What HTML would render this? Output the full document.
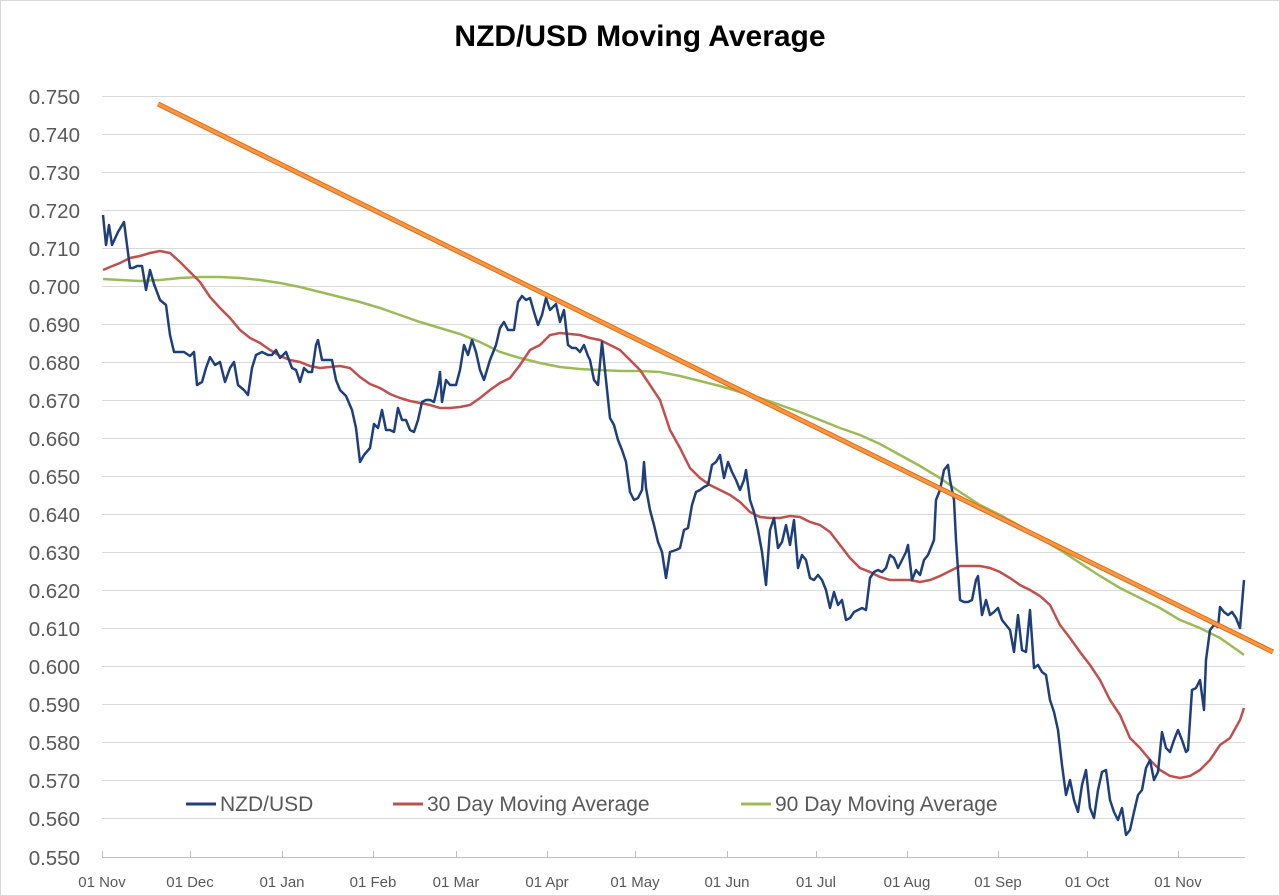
<!DOCTYPE html>
<html><head><style>
html,body{margin:0;padding:0;background:#fff;}
svg{display:block;}
text{font-family:"Liberation Sans",sans-serif;fill:#595959;}
</style></head><body>
<svg width="1280" height="896" viewBox="0 0 1280 896">
<rect x="0.5" y="0.5" width="1279" height="895" fill="#fff" stroke="#d9d9d9"/>
<text x="640" y="46" text-anchor="middle" style="font-size:30px;font-weight:bold;fill:#000">NZD/USD Moving Average</text>
<g stroke="#d9d9d9" stroke-width="1">
<line x1="102" x2="1245" y1="96.5" y2="96.5"/><line x1="102" x2="1245" y1="134.5" y2="134.5"/><line x1="102" x2="1245" y1="172.5" y2="172.5"/><line x1="102" x2="1245" y1="210.5" y2="210.5"/><line x1="102" x2="1245" y1="248.5" y2="248.5"/><line x1="102" x2="1245" y1="286.5" y2="286.5"/><line x1="102" x2="1245" y1="324.5" y2="324.5"/><line x1="102" x2="1245" y1="362.5" y2="362.5"/><line x1="102" x2="1245" y1="400.5" y2="400.5"/><line x1="102" x2="1245" y1="438.5" y2="438.5"/><line x1="102" x2="1245" y1="476.5" y2="476.5"/><line x1="102" x2="1245" y1="514.5" y2="514.5"/><line x1="102" x2="1245" y1="552.5" y2="552.5"/><line x1="102" x2="1245" y1="590.5" y2="590.5"/><line x1="102" x2="1245" y1="628.5" y2="628.5"/><line x1="102" x2="1245" y1="666.5" y2="666.5"/><line x1="102" x2="1245" y1="704.5" y2="704.5"/><line x1="102" x2="1245" y1="742.5" y2="742.5"/><line x1="102" x2="1245" y1="780.5" y2="780.5"/><line x1="102" x2="1245" y1="818.5" y2="818.5"/>
<line x1="102" x2="1245" y1="857.5" y2="857.5" stroke="#bfbfbf"/>
<g stroke="#bfbfbf"><line x1="102.5" x2="102.5" y1="851" y2="857"/><line x1="190.5" x2="190.5" y1="851" y2="857"/><line x1="282.5" x2="282.5" y1="851" y2="857"/><line x1="373.5" x2="373.5" y1="851" y2="857"/><line x1="456.5" x2="456.5" y1="851" y2="857"/><line x1="547.5" x2="547.5" y1="851" y2="857"/><line x1="635.5" x2="635.5" y1="851" y2="857"/><line x1="727.5" x2="727.5" y1="851" y2="857"/><line x1="816.5" x2="816.5" y1="851" y2="857"/><line x1="907.5" x2="907.5" y1="851" y2="857"/><line x1="998.5" x2="998.5" y1="851" y2="857"/><line x1="1087.5" x2="1087.5" y1="851" y2="857"/><line x1="1178.5" x2="1178.5" y1="851" y2="857"/></g>
</g>
<g style="font-size:20.5px" text-anchor="end">
<text x="80" y="104">0.750</text><text x="80" y="142">0.740</text><text x="80" y="180">0.730</text><text x="80" y="218">0.720</text><text x="80" y="256">0.710</text><text x="80" y="294">0.700</text><text x="80" y="332">0.690</text><text x="80" y="370">0.680</text><text x="80" y="408">0.670</text><text x="80" y="446">0.660</text><text x="80" y="484">0.650</text><text x="80" y="522">0.640</text><text x="80" y="560">0.630</text><text x="80" y="598">0.620</text><text x="80" y="636">0.610</text><text x="80" y="674">0.600</text><text x="80" y="712">0.590</text><text x="80" y="750">0.580</text><text x="80" y="788">0.570</text><text x="80" y="826">0.560</text><text x="80" y="865">0.550</text>
</g>
<g style="font-size:15px" text-anchor="middle">
<text x="102" y="887">01 Nov</text><text x="190" y="887">01 Dec</text><text x="282" y="887">01 Jan</text><text x="373" y="887">01 Feb</text><text x="456" y="887">01 Mar</text><text x="547" y="887">01 Apr</text><text x="635" y="887">01 May</text><text x="727" y="887">01 Jun</text><text x="816" y="887">01 Jul</text><text x="907" y="887">01 Aug</text><text x="998" y="887">01 Sep</text><text x="1087" y="887">01 Oct</text><text x="1178" y="887">01 Nov</text>
</g>
<polyline fill="none" stroke="#9BBB59" stroke-width="2.5" points="103,279 120,280 140,281 160,280 180,278 200,277 220,277 240,278 260,280 280,283 300,287 320,292 340,297 360,302 380,308 400,315 420,322 440,328 460,334 480,342 500,352 520,358 540,363 560,367 580,369 600,370 620,371 640,371 660,372 680,376 700,381 720,386 740,392 760,398 780,405 800,412 820,420 840,428 860,435 880,444 900,455 920,466 940,478 960,492 980,505 1000,515 1020,526 1040,538 1060,550 1080,563 1100,576 1120,588 1140,598 1160,608 1180,620 1200,628 1220,638 1240,652 1244,655"/>
<polyline fill="none" stroke="#C0504D" stroke-width="2.5" points="103,270 110,267 120,263 130,258 140,256 150,253 160,251 170,253 180,262 190,272 200,282 210,297 220,308 230,318 240,330 250,338 260,343 270,350 280,356 290,360 300,362 310,366 320,368 330,367 340,366 350,368 360,377 370,384 380,388 390,394 400,398 410,401 420,403 430,405 440,408 450,408 460,407 470,405 480,398 490,390 500,383 510,378 520,365 530,350 540,345 550,335 560,333 570,334 580,335 590,338 600,340 610,345 620,350 630,360 640,370 650,385 660,400 670,430 680,448 690,468 700,478 710,485 720,490 730,495 740,502 750,512 760,517 770,518 780,518 790,516 800,517 810,522 820,525 830,532 840,545 850,558 860,568 870,572 880,577 890,580 900,580 910,580 920,582 930,580 940,576 950,571 960,566 970,566 980,566 990,568 1000,572 1010,578 1020,585 1030,590 1040,596 1050,605 1060,625 1070,638 1080,652 1090,665 1100,680 1110,700 1120,715 1130,738 1140,748 1150,760 1160,770 1170,776 1180,778 1190,776 1200,770 1210,760 1220,745 1230,738 1240,720 1244,708"/>
<polyline fill="none" stroke="#1F3F7A" stroke-width="2.5" stroke-linejoin="round" points="103,215 106,245 109,225 112,245 118,232 124,222 130,268 133,268 137,266 142,266 146,290 150,270 154,284 160,300 166,305 170,335 174,352 184,352 190,356 194,352 197,385 202,382 206,368 210,357 215,365 220,362 225,382 230,368 234,362 238,385 244,390 248,395 252,368 256,355 262,352 268,355 272,355 276,350 280,358 286,352 292,368 296,370 300,382 304,368 308,372 312,372 316,345 318,340 322,360 328,360 332,360 336,380 340,390 346,396 352,410 356,428 360,462 364,455 370,448 374,424 378,428 382,410 386,430 390,430 394,432 398,408 402,420 406,420 410,430 414,432 418,420 422,402 426,400 430,400 434,402 438,385 440,372 442,402 446,380 450,385 456,385 460,370 464,345 468,355 472,340 476,352 480,370 484,380 490,360 496,345 500,328 504,322 508,330 514,330 518,302 522,296 526,300 530,298 534,312 538,325 542,315 546,298 550,310 556,304 560,322 564,310 568,345 572,348 576,348 580,352 584,345 588,356 590,360 594,380 598,385 602,342 606,380 610,418 614,425 618,440 622,450 626,462 630,492 634,500 638,498 642,490 644,462 646,488 650,510 654,525 658,542 662,552 666,578 670,552 676,550 680,548 684,530 688,528 692,505 696,492 700,490 704,487 708,485 712,465 716,462 720,455 724,478 728,462 732,472 736,480 740,490 744,480 746,470 750,500 754,512 758,530 762,552 766,585 770,530 774,518 778,548 782,542 786,525 790,545 794,520 798,568 802,555 806,560 810,578 814,580 818,575 822,580 826,590 830,608 834,592 838,605 842,600 846,620 850,618 854,612 858,610 862,608 866,610 870,578 874,572 878,570 882,572 886,568 890,555 894,558 898,568 902,560 906,552 908,545 912,580 916,570 920,575 924,560 928,555 932,545 934,540 936,500 940,490 944,470 948,465 950,480 954,500 956,540 960,600 964,602 968,602 972,600 976,580 978,576 982,615 986,600 990,615 994,612 998,608 1002,620 1006,625 1010,630 1014,652 1018,615 1022,650 1026,652 1030,610 1034,668 1038,665 1042,672 1046,675 1050,700 1054,712 1058,730 1062,765 1066,795 1070,780 1074,800 1078,812 1082,785 1086,770 1090,808 1094,818 1098,790 1102,772 1106,770 1110,800 1114,812 1118,820 1122,808 1126,835 1130,830 1134,812 1138,795 1142,790 1146,768 1150,760 1154,780 1158,772 1162,732 1166,748 1170,752 1174,740 1178,730 1182,740 1186,752 1188,750 1192,690 1196,688 1200,680 1204,710 1206,660 1210,630 1214,625 1218,627 1220,607 1224,612 1228,615 1232,612 1236,618 1240,628 1244,580"/>
<line x1="158" y1="104" x2="1273" y2="652" stroke="#E46C0A" stroke-width="5"/>
<line x1="158" y1="104" x2="1273" y2="652" stroke="#F79646" stroke-width="3"/>
<line x1="186" x2="216" y1="804" y2="804" stroke="#1F3F7A" stroke-width="3"/>
<text x="220" y="811" style="font-size:21px">NZD/USD</text>
<line x1="393" x2="423" y1="804" y2="804" stroke="#C0504D" stroke-width="3"/>
<text x="427" y="811" style="font-size:21px">30 Day Moving Average</text>
<line x1="741" x2="771" y1="804" y2="804" stroke="#9BBB59" stroke-width="3"/>
<text x="775" y="811" style="font-size:21px">90 Day Moving Average</text>
</svg>
</body></html>
